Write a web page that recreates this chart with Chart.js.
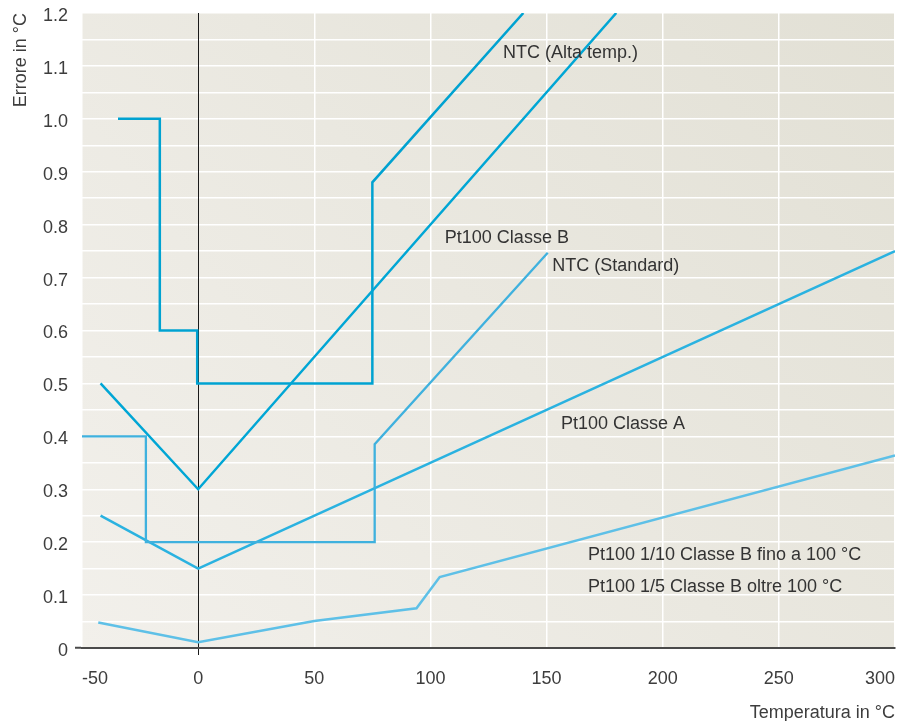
<!DOCTYPE html>
<html>
<head>
<meta charset="utf-8">
<title>Errore in °C</title>
<script src="https://cdn.jsdelivr.net/npm/chart.js@4.4.1/dist/chart.umd.min.js"></script>
<style>
  html, body { margin: 0; padding: 0; background: #fff; }
  #wrap { position: relative; width: 908px; height: 721px; }
</style>
</head>
<body>
<div id="wrap"><canvas id="chart"></canvas></div>
<script>
// temperature (°C) / error (°C) pairs for each tolerance curve
var ntcHighT   = [-34.5, -16.5, -16.5, -0.4, -0.4, 75, 75, 140];
var ntcHighErr = [1.0, 1.0, 0.6, 0.6, 0.5, 0.5, 0.88, 1.2];

var pt100BT   = [-42, 0, 180];
var pt100BErr = [0.5, 0.3, 1.2];

var ntcStdT   = [-50, -22.5, -22.5, 76, 76, 150.5];
var ntcStdErr = [0.4, 0.4, 0.2, 0.2, 0.385, 0.747];

var pt100AT   = [-42, 0, 300];
var pt100AErr = [0.25, 0.15, 0.75];

var pt100TenthT   = [-43, 0, 50, 94, 104, 300];
var pt100TenthErr = [0.048, 0.011, 0.051, 0.075, 0.134, 0.364];

var xTicks = [-50, 0, 50, 100, 150, 200, 250, 300];
var yTickLabels = ['0', '0.1', '0.2', '0.3', '0.4', '0.5', '0.6', '0.7', '0.8', '0.9', '1.0', '1.1', '1.2'];

// curve names, anchored at (temperature, error)
var noteText = ['NTC (Alta temp.)', 'Pt100 Classe B', 'NTC (Standard)', 'Pt100 Classe A',
                'Pt100 1/10 Classe B fino a 100 °C', 'Pt100 1/5 Classe B oltre 100 °C'];
var noteT   = [131.2, 106.2, 152.4, 156.2, 167.8, 167.8];
var noteErr = [1.124, 0.775, 0.722, 0.423, 0.176, 0.116];

function pairs(xs, ys) {
    return xs.map(function(x, i) { return { x: x, y: ys[i] }; });
}

function curve(xs, ys, color, width) {
    return {
        data: pairs(xs, ys),
        borderColor: color,
        borderWidth: width,
        pointRadius: 0,
        tension: 0,
        fill: false,
        borderJoinStyle: 'miter'
    };
}

var plotBackground = {
    id: 'plotBackground',
    beforeDraw: function(chart) {
        var a = chart.chartArea, ctx = chart.ctx;
        var g = ctx.createLinearGradient(a.left, a.bottom, a.right, a.top);
        g.addColorStop(0, '#f2f0eb');
        g.addColorStop(1, '#e2e0d5');
        ctx.save();
        ctx.fillStyle = g;
        ctx.fillRect(a.left, a.top, a.right - a.left, a.bottom - a.top);
        ctx.restore();
    }
};

var curveNotes = {
    id: 'curveNotes',
    afterDatasetsDraw: function(chart) {
        var ctx = chart.ctx, xs = chart.scales.x, ys = chart.scales.y;
        ctx.save();
        ctx.font = '18px "Liberation Sans", Arial, sans-serif';
        ctx.fillStyle = '#333333';
        ctx.textAlign = 'left';
        ctx.textBaseline = 'middle';
        noteText.forEach(function(t, i) {
            ctx.fillText(t, xs.getPixelForValue(noteT[i]), ys.getPixelForValue(noteErr[i]));
        });
        ctx.restore();
    }
};

var isZero = function(c) { return c.tick && Math.abs(c.tick.value) < 1e-9; };
var axisFont = { family: '"Liberation Sans", Arial, sans-serif', size: 18 };

var chart = new Chart(document.getElementById('chart').getContext('2d'), {
    type: 'line',
    data: {
        datasets: [
            curve(ntcStdT, ntcStdErr, '#3fb1de', 2.3),
            curve(pt100TenthT, pt100TenthErr, '#5ec0e7', 2.5),
            curve(pt100AT, pt100AErr, '#2ab2e0', 2.5),
            curve(pt100BT, pt100BErr, '#00a6d5', 2.5),
            curve(ntcHighT, ntcHighErr, '#00a2d1', 2.5)
        ]
    },
    options: {
        responsive: true,
        maintainAspectRatio: false,
        animation: false,
        layout: { padding: { top: 13, right: 13, left: 0, bottom: 0 } },
        plugins: {
            legend: { display: false },
            tooltip: { enabled: false }
        },
        scales: {
            x: {
                type: 'linear',
                min: -50,
                max: 300,
                afterBuildTicks: function(s) {
                    s.ticks = xTicks.map(function(v) { return { value: v }; });
                },
                afterFit: function(s) {
                    s.height = 73;
                    s.paddingLeft = 0;
                    s.paddingRight = 0;
                },
                grid: {
                    z: -1,
                    color: function(c) { return isZero(c) ? '#1a1a1a' : '#ffffff'; },
                    lineWidth: function(c) { return isZero(c) ? 1 : 1.5; },
                    tickColor: function(c) { return isZero(c) ? '#1a1a1a' : 'rgba(0,0,0,0)'; },
                    tickLength: 7
                },
                border: { display: true, color: '#4a4a4a', width: 2 },
                ticks: {
                    font: axisFont,
                    color: '#3d3d3d',
                    padding: 13,
                    align: 'inner',
                    autoSkip: false,
                    maxRotation: 0
                },
                title: {
                    display: true,
                    text: 'Temperatura in °C',
                    align: 'end',
                    font: axisFont,
                    color: '#3d3d3d',
                    padding: { top: 0, bottom: -3 }
                }
            },
            y: {
                min: 0,
                max: 1.2,
                afterFit: function(s) {
                    s.width = 82;
                    s.paddingTop = 0;
                    s.paddingBottom = 0;
                },
                grid: {
                    z: -2,
                    color: '#ffffff',
                    lineWidth: 1.5,
                    tickColor: function(c) { return isZero(c) ? '#4a4a4a' : 'rgba(0,0,0,0)'; },
                    tickWidth: 2,
                    tickLength: 7
                },
                border: { display: false },
                ticks: {
                    count: 25,
                    font: axisFont,
                    color: '#3d3d3d',
                    padding: 7,
                    labelOffset: 3,
                    autoSkip: false,
                    callback: function(v, i) {
                        return i % 2 === 0 ? yTickLabels[i / 2] : '';
                    }
                },
                title: {
                    display: true,
                    text: 'Errore in °C',
                    align: 'end',
                    font: axisFont,
                    color: '#3d3d3d',
                    padding: { top: 10, bottom: 0 }
                }
            }
        }
    },
    plugins: [plotBackground, curveNotes]
});
</script>
</body>
</html>
